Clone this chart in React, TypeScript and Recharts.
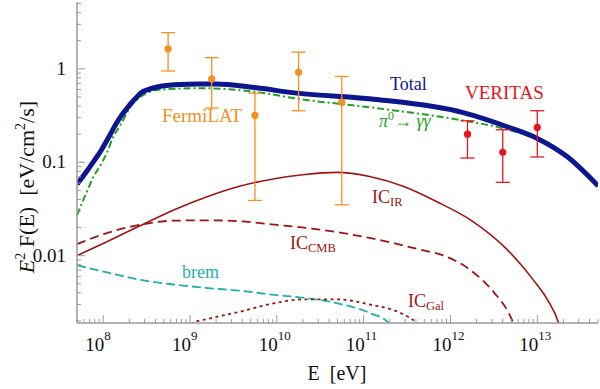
import React from 'react';
import { ComposedChart, Line, Scatter, ErrorBar, XAxis, YAxis } from 'recharts';

// energies in eV, E^2 F(E) in eV/cm^2/s
const totalE = [5e7, 6.6e7, 8e7, 9.4e7, 1.08e8, 1.23e8, 1.4e8, 1.6e8, 1.85e8, 2.1e8, 2.4e8, 2.7e8, 3.3e8, 4.2e8, 6.6e8, 1.3e9, 2e9, 5.5e9, 1.7e10, 1.4e11, 1.4e12, 4.5e12, 1e13, 2.2e13, 5e13];
const totalF = [0.058, 0.082, 0.106, 0.132, 0.165, 0.205, 0.255, 0.31, 0.37, 0.43, 0.49, 0.55, 0.6, 0.64, 0.675, 0.69, 0.69, 0.63, 0.55, 0.47, 0.34, 0.24, 0.18, 0.115, 0.056];

const pionE = [5e7, 6e7, 6.6e7, 7.6e7, 9.4e7, 1.12e8, 1.3e8, 1.58e8, 2.1e8, 2.95e8, 4.6e8, 1.35e9, 5.5e9, 1.7e10, 1.4e11, 1.4e12, 3.7e12, 1e13, 2.2e13, 5e13];
const pionF = [0.027, 0.041, 0.05, 0.068, 0.094, 0.13, 0.185, 0.25, 0.4, 0.53, 0.6, 0.62, 0.57, 0.48, 0.38, 0.28, 0.235, 0.175, 0.112, 0.055];

const irE = [5e7, 1.12e8, 2.7e8, 6.6e8, 1.6e9, 3.9e9, 9.4e9, 2e10, 4.9e10, 1.17e11, 2.9e11, 6.9e11, 1.8e12, 4.5e12, 9e12, 1.3e13, 1.76e13, 2.2e13];
const irF = [0.01, 0.0142, 0.021, 0.031, 0.043, 0.056, 0.0667, 0.0735, 0.078, 0.0705, 0.055, 0.038, 0.0233, 0.0116, 0.0055, 0.0034, 0.0019, 0.0008];

const cmbE = [5e7, 1.12e8, 2.7e8, 6.6e8, 1.6e9, 3.9e9, 9.4e9, 3.1e10, 1.17e11, 4.5e11, 7.6e11, 1.7e12, 3.2e12, 4.5e12, 5.3e12, 7e12];
const cmbF = [0.0133, 0.0175, 0.0215, 0.0237, 0.0239, 0.0233, 0.0215, 0.019, 0.0155, 0.0116, 0.0103, 0.007, 0.004, 0.0026, 0.0019, 0.0008];

const galE = [8e8, 1.07e9, 1.6e9, 3.9e9, 9.4e9, 2e10, 4.9e10, 1.17e11, 2.9e11, 4.1e11, 6e11];
const galF = [0.0012, 0.0019, 0.0021, 0.00253, 0.0031, 0.0034, 0.0034, 0.003, 0.00234, 0.0019, 0.0012];

const bremE = [5e7, 1.12e8, 2.7e8, 6.6e8, 1.6e9, 3.9e9, 9.4e9, 2e10, 4.9e10, 1.17e11, 1.95e11, 3e11];
const bremF = [0.0079, 0.0066, 0.0055, 0.0049, 0.0045, 0.0042, 0.0038, 0.00355, 0.0031, 0.00244, 0.0019, 0.001];

const fermiE = [5.6e8, 1.78e9, 5.6e9, 1.78e10, 5.6e10];
const fermiF = [1.64, 0.78, 0.317, 0.92, 0.44];
const fermiLo = [0.95, 0.38, 0.039, 0.356, 0.035];
const fermiHi = [2.44, 1.32, 0.55, 1.51, 0.83];

const veritasE = [1.57e12, 4e12, 1e13];
const veritasF = [0.2, 0.128, 0.236];
const veritasLo = [0.111, 0.061, 0.114];
const veritasHi = [0.278, 0.223, 0.356];

const xMajor = [1e8, 1e9, 1e10, 1e11, 1e12, 1e13];
const yMajor = [0.01, 0.1, 1];
const yMajorLabels = ['0.01', '0.1', '1'];

const X_DOMAIN = [5e7, 5e13];
const Y_DOMAIN = [0.0019, 5.2];

const FONT = "'Liberation Serif', 'DejaVu Serif', 'Times New Roman', Times, serif";
const TICK_COLOR = '#9a9a9a';
const IC_COLOR = '#9e1414';

const curve = (es: number[], fs: number[]) => es.map((e, i) => ({ e, f: fs[i] }));
const points = (es: number[], fs: number[], lo: number[], hi: number[]) =>
  es.map((e, i) => ({ e, f: fs[i], err: [fs[i] - lo[i], hi[i] - fs[i]] }));

const logTicks = (min: number, max: number) => {
  const out: number[] = [];
  for (let p = -4; p <= 14; p++) {
    for (let m = 1; m <= 9; m++) {
      const v = m * Math.pow(10, p);
      if (v >= min * 0.999 && v <= max * 1.001) out.push(Number(v.toPrecision(3)));
    }
  }
  return out;
};
const xTicks = logTicks(X_DOMAIN[0], X_DOMAIN[1]);
const yTicks = logTicks(Y_DOMAIN[0], Y_DOMAIN[1]);
const isMajor = (v: number, majors: number[]) => majors.some(m => Math.abs(v / m - 1) < 1e-6);

const serif = { fontFamily: FONT };

const BottomTick = (props: any) => {
  const { x, y, payload } = props;
  const major = isMajor(payload.value, xMajor);
  const exp = Math.round(Math.log10(payload.value));
  return (
    <g>
      <line x1={x} x2={x} y1={y} y2={y - (major ? 8 : 4)} stroke={TICK_COLOR} strokeWidth={1} />
      {major && (
        <text style={serif} fill="#111">
          <tspan x={x + 1} y={y + 28} fontSize={19} textAnchor="end">10</tspan>
          <tspan x={x + 1} y={y + 17} fontSize={13}>{exp}</tspan>
        </text>
      )}
    </g>
  );
};

const TopTick = (props: any) => {
  const { x, y, payload } = props;
  const major = isMajor(payload.value, xMajor);
  return <line x1={x} x2={x} y1={y} y2={y + (major ? 8 : 4)} stroke={TICK_COLOR} strokeWidth={1} />;
};

const LeftTick = (props: any) => {
  const { x, y, payload } = props;
  const idx = yMajor.findIndex(m => Math.abs(payload.value / m - 1) < 1e-6);
  const major = idx >= 0;
  return (
    <g>
      <line x1={x} x2={x + (major ? 8 : 4)} y1={y} y2={y} stroke={TICK_COLOR} strokeWidth={1} />
      {major && (
        <text x={x - 11} y={y + 6} textAnchor="end" style={serif} fontSize={19} fill="#111">
          {yMajorLabels[idx]}
        </text>
      )}
    </g>
  );
};

const RightTick = (props: any) => {
  const { x, y, payload } = props;
  const major = isMajor(payload.value, yMajor);
  return <line x1={x} x2={x - (major ? 8 : 4)} y1={y} y2={y} stroke={TICK_COLOR} strokeWidth={1} />;
};

const Dot = (color: string) => (props: any) => <circle cx={props.cx} cy={props.cy} r={3.6} fill={color} />;

export default function App() {
  return (
    <div style={{ position: 'absolute', left: 0, top: 0, width: 600, height: 389, background: '#fff', fontFamily: FONT }}>
      <ComposedChart width={600} height={389} margin={{ top: 2, right: 2, bottom: 0, left: 0 }}>
        <XAxis
          xAxisId="b"
          dataKey="e"
          type="number"
          scale="log"
          domain={X_DOMAIN}
          allowDataOverflow
          ticks={xTicks}
          interval={0}
          height={66}
          tickSize={0}
          tickMargin={0}
          tick={<BottomTick />}
          axisLine={{ stroke: TICK_COLOR, strokeWidth: 1.5 }}
          tickLine={false}
          label={{
            content: () => (
              <text x={337} y={380} textAnchor="middle" style={serif} fontSize={20} fill="#111">
                {'E\u00a0\u00a0[eV]'}
              </text>
            ),
          }}
        />
        <XAxis
          xAxisId="t"
          dataKey="e"
          type="number"
          scale="log"
          orientation="top"
          domain={X_DOMAIN}
          allowDataOverflow
          ticks={xTicks}
          interval={0}
          height={0}
          tickSize={0}
          tickMargin={0}
          tick={<TopTick />}
          axisLine={{ stroke: TICK_COLOR, strokeWidth: 1.5 }}
          tickLine={false}
        />
        <YAxis
          yAxisId="l"
          dataKey="f"
          type="number"
          scale="log"
          domain={Y_DOMAIN}
          allowDataOverflow
          ticks={yTicks}
          interval={0}
          width={77}
          tickSize={0}
          tickMargin={0}
          tick={<LeftTick />}
          axisLine={{ stroke: TICK_COLOR, strokeWidth: 1.5 }}
          tickLine={false}
          label={{
            content: () => (
              <text transform="translate(34,187) rotate(-90)" textAnchor="middle" style={serif} fontSize={22} fill="#111">
                <tspan fontStyle="italic">E</tspan>
                <tspan fontSize={14} dy={-9}>2</tspan>
                <tspan dy={9}>{'\u00a0F(E)\u00a0\u00a0[eV/cm'}</tspan>
                <tspan fontSize={14} dy={-9}>2</tspan>
                <tspan dy={9}>/s]</tspan>
              </text>
            ),
          }}
        />
        <YAxis
          yAxisId="r"
          dataKey="f"
          type="number"
          scale="log"
          orientation="right"
          domain={Y_DOMAIN}
          allowDataOverflow
          ticks={yTicks}
          interval={0}
          width={0}
          tickSize={0}
          tickMargin={0}
          tick={<RightTick />}
          axisLine={{ stroke: TICK_COLOR, strokeWidth: 1.5 }}
          tickLine={false}
        />

        <Line xAxisId="b" yAxisId="l" data={curve(bremE, bremF)} dataKey="f" type="monotone" stroke="#1cb0b0" strokeWidth={1.8} strokeDasharray="9 4" dot={false} isAnimationActive={false} />
        <Line xAxisId="b" yAxisId="l" data={curve(galE, galF)} dataKey="f" type="monotone" stroke={IC_COLOR} strokeWidth={1.8} strokeDasharray="3 3.5" dot={false} isAnimationActive={false} />
        <Line xAxisId="b" yAxisId="l" data={curve(cmbE, cmbF)} dataKey="f" type="monotone" stroke={IC_COLOR} strokeWidth={1.8} strokeDasharray="9 5" dot={false} isAnimationActive={false} />
        <Line xAxisId="b" yAxisId="l" data={curve(irE, irF)} dataKey="f" type="monotone" stroke={IC_COLOR} strokeWidth={1.6} dot={false} isAnimationActive={false} />
        <Line xAxisId="b" yAxisId="l" data={curve(pionE, pionF)} dataKey="f" type="monotone" stroke="#21a021" strokeWidth={2} strokeDasharray="7 3 2 3" dot={false} isAnimationActive={false} />
        <Line xAxisId="b" yAxisId="l" data={curve(totalE, totalF)} dataKey="f" type="monotone" stroke="#0b168f" strokeWidth={5} dot={false} isAnimationActive={false} />

        <Scatter xAxisId="b" yAxisId="l" data={points(fermiE, fermiF, fermiLo, fermiHi)} dataKey="f" fill="#f39020" shape={Dot('#f39020')} isAnimationActive={false}>
          <ErrorBar dataKey="err" direction="y" width={7} stroke="#f39020" strokeWidth={1.3} />
        </Scatter>
        <Scatter xAxisId="b" yAxisId="l" data={points(veritasE, veritasF, veritasLo, veritasHi)} dataKey="f" fill="#e8141e" shape={Dot('#e8141e')} isAnimationActive={false}>
          <ErrorBar dataKey="err" direction="y" width={7} stroke="#e8141e" strokeWidth={1.3} />
        </Scatter>

        <g style={serif} fontSize={18}>
          <text x={390} y={90} fill="#0b168f">Total</text>
          <text x={465} y={99} fill="#e8141e" fontSize={19}>VERITAS</text>
          <text x={162} y={122} fill="#f39020" fontSize={19}>FermiLAT</text>
          <text x={379} y={127} fill="#21a021">
            <tspan fontStyle="italic">π</tspan>
            <tspan fontSize={12} dy={-7}>0</tspan>
            <tspan dy={7}>{'\u2192\u00a0'}</tspan>
            <tspan fontStyle="italic">γγ</tspan>
          </text>
          <text x={372} y={203} fill={IC_COLOR}>
            IC<tspan fontSize={12.5} dy={3}>IR</tspan>
          </text>
          <text x={290} y={249} fill={IC_COLOR}>
            IC<tspan fontSize={12.5} dy={3}>CMB</tspan>
          </text>
          <text x={408} y={307} fill={IC_COLOR}>
            IC<tspan fontSize={12.5} dy={3}>Gal</tspan>
          </text>
          <text x={182} y={278} fill="#1cb0b0">brem</text>
        </g>
      </ComposedChart>
    </div>
  );
}
